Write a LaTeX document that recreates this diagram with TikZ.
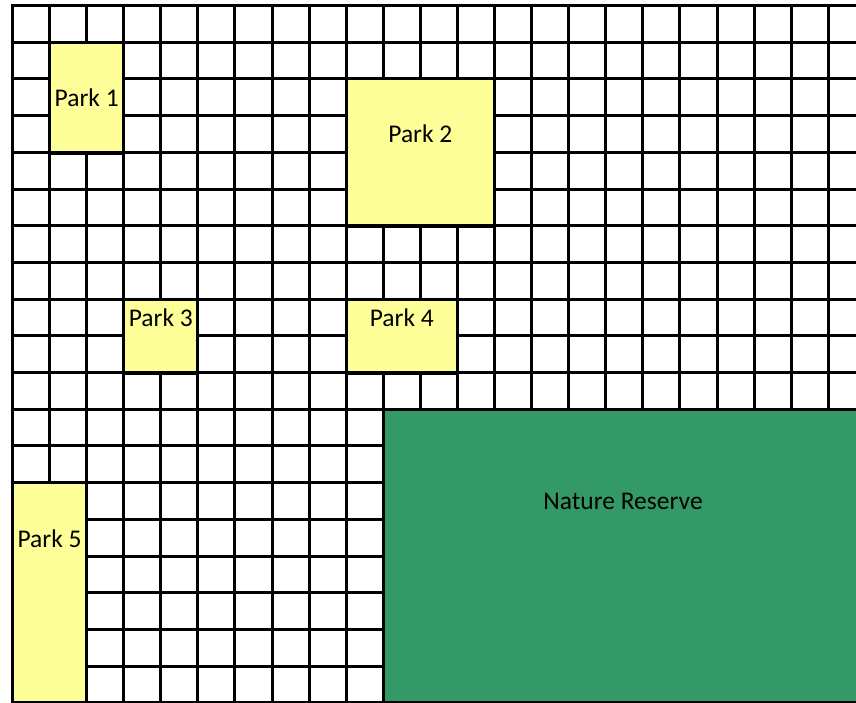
\documentclass[tikz,border=0pt]{standalone}
\usepackage{fontspec}
\setmainfont{Carlito}
\definecolor{parkyellow}{HTML}{FFFF99}
\definecolor{reservegreen}{HTML}{339966}
\begin{document}
\begin{tikzpicture}[x=1pt,y=-1pt,
  gridline/.style={line width=3pt,black},
  parkfill/.style={fill=parkyellow},
  parkedge/.style={draw=black,line width=3pt},
  parkbottom/.style={draw=black,line width=4.5pt},
  lbl/.style={font=\fontsize{25.5}{30}\selectfont,inner sep=0pt,text=black}]
\useasboundingbox (0,0) rectangle (856,702);
\fill[white] (0,0) rectangle (856,702);
\begin{scope}
\clip (0,0) rectangle (856,702);
% grid
\foreach \i in {0,...,22}
  \draw[gridline] ({12.5+37.08*\i},4) -- ({12.5+37.08*\i},710);
\foreach \j in {0,...,19}
  \draw[gridline] (11,{5.5+36.7*\j}) -- (860,{5.5+36.7*\j});
% nature reserve
\fill[reservegreen] (384.8,410.7) rectangle (860,701.3);
% parks
\fill[parkfill] (49.58,42.2) rectangle (123.74,152.3);
\draw[parkedge] (49.58,42.2) rectangle (123.74,152.3);
\draw[parkbottom] (48.08,152.8) -- (125.24,152.8);
\fill[parkfill] (346.22,78.9) rectangle (494.54,225.7);
\draw[parkedge] (346.22,78.9) rectangle (494.54,225.7);
\draw[parkbottom] (344.72,226.2) -- (496.04,226.2);
\fill[parkfill] (123.74,299.1) rectangle (197.9,372.5);
\draw[parkedge] (123.74,299.1) rectangle (197.9,372.5);
\draw[parkbottom] (122.24,373) -- (199.4,373);
\fill[parkfill] (346.22,299.1) rectangle (457.46,372.5);
\draw[parkedge] (346.22,299.1) rectangle (457.46,372.5);
\draw[parkbottom] (344.72,373) -- (458.96,373);
\fill[parkfill] (12.5,482.6) rectangle (86.66,702.8);
\draw[parkedge] (12.5,482.6) rectangle (86.66,702.8);
\end{scope}
% labels
\node[lbl] (p1) at (86.66,97.25) {Park 1};
\node[lbl] (p2) at (420.38,133.95) {Park 2};
\node[lbl] (p3) at (160.82,317.45) {Park 3};
\node[lbl] (p4) at (401.84,317.45) {Park 4};
\node[lbl] (p5) at (49.58,538.5) {Park 5};
\node[lbl] (nr) at (623,501) {Nature Reserve};
\end{tikzpicture}
\end{document}
